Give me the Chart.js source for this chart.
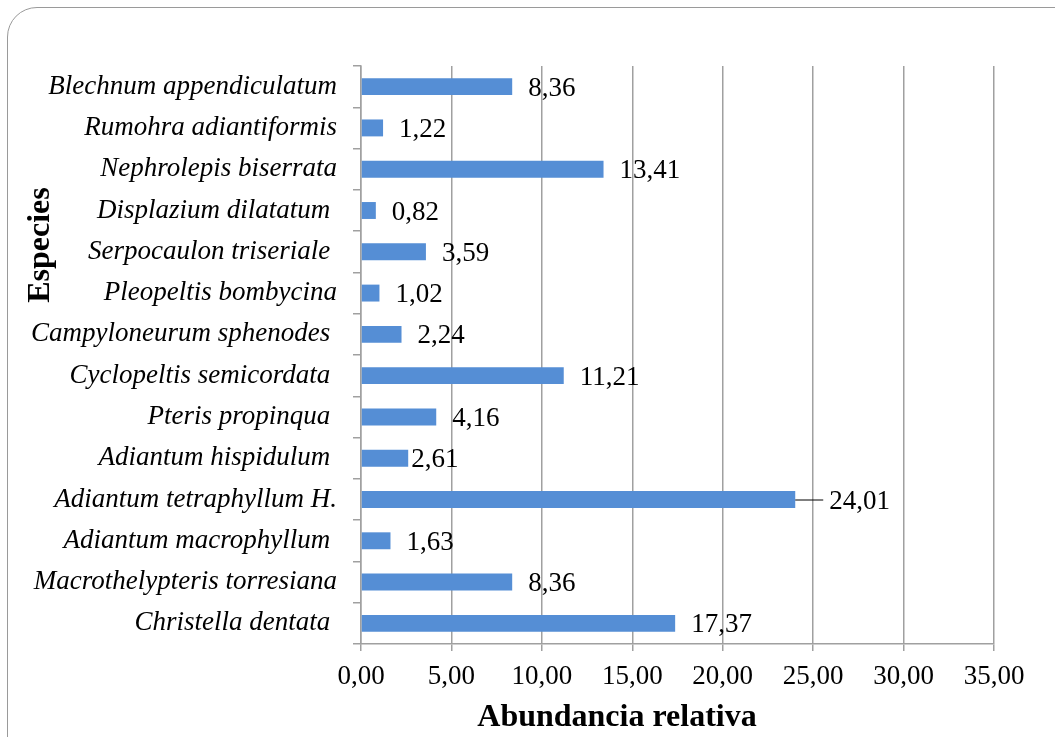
<!DOCTYPE html>
<html>
<head>
<meta charset="utf-8">
<script src="https://cdn.jsdelivr.net/npm/chart.js@4.4.0/dist/chart.umd.min.js"></script>
<style>
  html, body { margin: 0; padding: 0; background: #fff; overflow: hidden; }
  #wrap { position: relative; width: 1055px; height: 737px; }
  #frame {
    position: absolute; left: 7px; top: 7px; width: 1100px; height: 780px;
    border: 1.5px solid #9a9a9a; border-radius: 30px; box-sizing: border-box;
  }
  canvas { position: absolute; left: 0; top: 0; }
</style>
</head>
<body>
<div id="wrap">
  <div id="frame"></div>
  <canvas id="myChart" width="1055" height="737"></canvas>
</div>
<script>
// species, top to bottom (trailing spaces as in the original labels)
const species = [
  'Blechnum appendiculatum',
  'Rumohra adiantiformis',
  'Nephrolepis biserrata',
  'Displazium dilatatum ',
  'Serpocaulon triseriale ',
  'Pleopeltis bombycina',
  'Campyloneurum sphenodes ',
  'Cyclopeltis semicordata ',
  'Pteris propinqua ',
  'Adiantum hispidulum ',
  'Adiantum tetraphyllum H.',
  'Adiantum macrophyllum ',
  'Macrothelypteris torresiana',
  'Christella dentata ',
]
const abundance = [8.36, 1.22, 13.41, 0.82, 3.59, 1.02, 2.24, 11.21, 4.16, 2.61, 24.01, 1.63, 8.36, 17.37]
const xTicks = [0, 5, 10, 15, 20, 25, 30, 35]

const serif = '"Liberation Serif", "Times New Roman", serif'
const comma = v => v.toFixed(2).replace('.', ',')

// value labels next to the bars (one gets a leader line, like in Excel)
const valueLabels = {
  id: 'valueLabels',
  afterDatasetsDraw(chart) {
    const ctx = chart.ctx
    const meta = chart.getDatasetMeta(0)
    ctx.save()
    ctx.font = '27px ' + serif
    ctx.fillStyle = '#000'
    ctx.textBaseline = 'middle'
    ctx.textAlign = 'left'
    meta.data.forEach((bar, i) => {
      const v = abundance[i]
      let gap = 16
      if (v === 2.61) gap = 3
      if (v === 24.01) {
        gap = 34
        ctx.strokeStyle = '#000'
        ctx.lineWidth = 1
        ctx.beginPath()
        ctx.moveTo(bar.x, bar.y + 0.5)
        ctx.lineTo(bar.x + 28, bar.y + 0.5)
        ctx.stroke()
      }
      ctx.fillText(comma(v), bar.x + gap, bar.y + 2)
    })
    ctx.restore()
  },
}

// axis titles, placed where the original puts them
const axisTitles = {
  id: 'axisTitles',
  afterDraw(chart) {
    const ctx = chart.ctx
    ctx.save()
    ctx.fillStyle = '#000'
    ctx.font = 'bold 32px ' + serif
    ctx.textAlign = 'center'
    ctx.textBaseline = 'middle'
    ctx.fillText('Abundancia relativa', 617, 718)
    ctx.translate(41, 245)
    ctx.rotate(-Math.PI / 2)
    ctx.fillText('Especies', 0, 0)
    ctx.restore()
  },
}

const ctx = document.getElementById('myChart').getContext('2d')
new Chart(ctx, {
  type: 'bar',
  data: {
    labels: species,
    datasets: [
      {
        data: abundance,
        backgroundColor: '#558ED5',
        borderWidth: 0,
        categoryPercentage: 1,
        barPercentage: 0.41,
      },
    ],
  },
  options: {
    indexAxis: 'y',
    responsive: false,
    animation: false,
    layout: { padding: { top: 66, right: 61, bottom: 0, left: 0 } },
    plugins: {
      legend: { display: false },
      tooltip: { enabled: false },
    },
    scales: {
      x: {
        min: 0,
        max: 35,
        afterFit(scale) { scale.height = 93 },
        afterBuildTicks(scale) { scale.ticks = xTicks.map(v => ({ value: v })) },
        border: { color: '#a0a0a0', width: 1.5 },
        grid: { color: '#a0a0a0', lineWidth: 1.5, tickLength: 7 },
        ticks: {
          color: '#000',
          font: { family: serif, size: 27 },
          padding: 10,
          callback: v => comma(v),
        },
      },
      y: {
        afterFit(scale) { scale.width = 361 },
        border: { color: '#a0a0a0', width: 1.5 },
        grid: { color: '#a0a0a0', lineWidth: 1.5, drawOnChartArea: false, tickLength: 8 },
        ticks: {
          color: '#000',
          font: { family: serif, size: 27, style: 'italic' },
          padding: 16,
        },
      },
    },
  },
  plugins: [valueLabels, axisTitles],
})
</script>
</body>
</html>
